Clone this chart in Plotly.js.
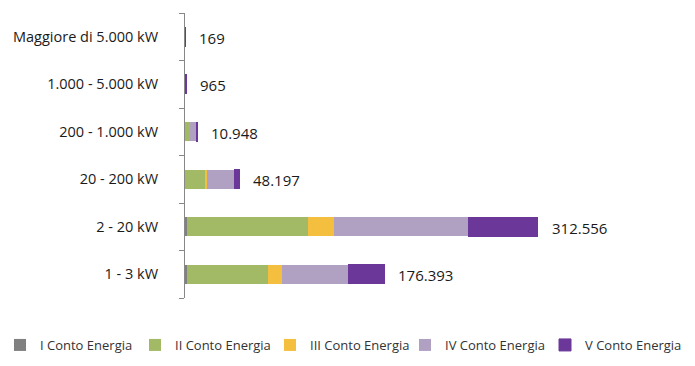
<!DOCTYPE html>
<html>
<head>
<meta charset="utf-8">
<script src="https://cdn.plot.ly/plotly-3.0.1.min.js"></script>
<style>html,body{margin:0;padding:0;background:#fff;}#chart{width:695px;height:366px;}</style>
</head>
<body>
<div id="chart"></div>
<script>
const categories = ["1 - 3 kW", "2 - 20 kW", "20 - 200 kW", "200 - 1.000 kW", "1.000 - 5.000 kW", "Maggiore di 5.000 kW"];
const seriesNames = ["I Conto Energia", "II Conto Energia", "III Conto Energia", "IV Conto Energia", "V Conto Energia"];
const contoI   = [1500, 1700, 300, 48, 0, 0];
const contoII  = [71900, 107500, 17500, 4100, 120, 15];
const contoIII = [12700, 22500, 2000, 400, 45, 10];
const contoIV  = [58600, 119300, 23700, 5300, 200, 30];
const contoV   = [31693, 61556, 4697, 1100, 600, 114];
const totals   = [176393, 312556, 48197, 10948, 965, 169];
const colors = ["#808080", "#A2B966", "#F4BF3E", "#B0A1C3", "#6B3899"];

const seriesValues = [contoI, contoII, contoIII, contoIV, contoV];
const legendIds = ["legend", "legend2", "legend3", "legend4", "legend5"];
const traces = seriesValues.map((vals, i) => ({
  type: "bar",
  orientation: "h",
  name: seriesNames[i],
  x: vals,
  y: categories,
  legend: legendIds[i],
  marker: i === 4 ? {color: colors[i], line: {color: colors[i], width: 1}} : {color: colors[i]},
  hoverinfo: "x+name"
}));

const annotations = totals.map((t, i) => ({
  x: t, y: categories[i], xref: "x", yref: "y",
  text: t.toLocaleString("de-DE"),
  showarrow: false, xanchor: "left", xshift: 12, yshift: -1,
  font: {family: "Open Sans", size: 15, color: "#1a1a1a"}
}));

const legendSquareX = [17, 153, 288, 423, 563];

const layout = {
  width: 695, height: 366,
  margin: {l: 185, r: 5, t: 13, b: 68},
  barmode: "stack",
  bargap: 0.59,
  separators: ",.",
  paper_bgcolor: "#fff", plot_bgcolor: "#fff",
  font: {family: "Open Sans", size: 13, color: "#333"},
  xaxis: {range: [0, 447530], showgrid: false, zeroline: false, showticklabels: false, ticks: "", showline: false},
  yaxis: {
    categoryorder: "array", categoryarray: categories,
    showline: true, linecolor: "#888", linewidth: 1,
    ticks: "outside", ticklen: 5, tickcolor: "#888", tickson: "boundaries",
    ticklabelstandoff: 23,
    showgrid: false, zeroline: false,
    tickfont: {family: "Open Sans", size: 14.5, color: "#1a1a1a"}
  },
  showlegend: true,
  annotations: annotations
};
legendIds.forEach((id, i) => {
  layout[id] = {orientation: "h", xref: "container", yref: "container",
    x: (legendSquareX[i] - 18) / 695, xanchor: "left",
    y: 0.0574, yanchor: "middle", bgcolor: "rgba(0,0,0,0)",
    font: {family: "Open Sans", size: 13, color: "#333"}, itemwidth: 30};
});

Plotly.newPlot("chart", traces, layout, {displayModeBar: false, staticPlot: true});
</script>
</body>
</html>
